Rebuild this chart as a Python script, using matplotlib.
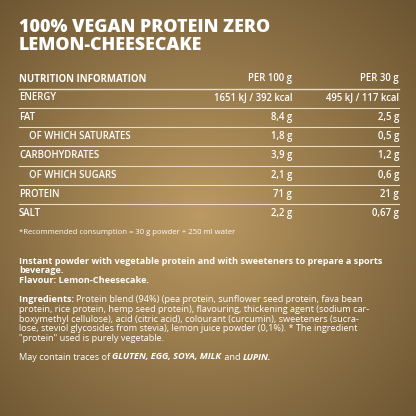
import numpy as np
import matplotlib
matplotlib.use("Agg")
import matplotlib.pyplot as plt

title_lines = ["100% VEGAN PROTEIN ZERO", "LEMON-CHEESECAKE"]
header = ["NUTRITION INFORMATION", "PER 100 g", "PER 30 g"]
nutrients = ["ENERGY", "FAT", "OF WHICH SATURATES", "CARBOHYDRATES", "OF WHICH SUGARS", "PROTEIN", "SALT"]
indent = [False, False, True, False, True, False, False]
per100 = ["1651 kJ / 392 kcal", "8,4 g", "1,8 g", "3,9 g", "2,1 g", "71 g", "2,2 g"]
per30 = ["495 kJ / 117 kcal", "2,5 g", "0,5 g", "1,2 g", "0,6 g", "21 g", "0,67 g"]
footnote = "*Recommended consumption = 30 g powder + 250 ml water"
para1 = ["Instant powder with vegetable protein and with sweeteners to prepare a sports",
         "beverage.", "Flavour: Lemon-Cheesecake."]
ingr = [[("Ingredients: ", "bold"), ("Protein blend (94%) (pea protein, sunflower seed protein, fava bean", "normal")],
        [("protein, rice protein, hemp seed protein), flavouring, thickening agent (sodium car-", "normal")],
        [("boxymethyl cellulose), acid (citric acid), colourant (curcumin), sweeteners (sucra-", "normal")],
        [("lose, steviol glycosides from stevia), lemon juice powder (0,1%). * The ingredient", "normal")],
        [("\"protein\" used is purely vegetable.", "normal")]]
traces = [("May contain traces of ", "normal", "normal"), ("GLUTEN, EGG, SOYA, MILK", "bold", "italic"),
          (" and ", "normal", "normal"), ("LUPIN.", "bold", "italic")]

W = H = 416
fig = plt.figure(figsize=(4.16, 4.16), dpi=100)
ax = fig.add_axes([0, 0, 1, 1])
ax.set_xlim(0, W); ax.set_ylim(H, 0); ax.axis("off")

yy, xx = np.mgrid[0:H, 0:W]
r = np.sqrt((xx - 200) ** 2 + (yy - 215) ** 2) / 300
r = np.clip(r, 0, 1)
c0 = np.array([0xbc, 0x9a, 0x62]) / 255
c1 = np.array([0x6c, 0x55, 0x32]) / 255
img = c0[None, None, :] * (1 - r[..., None]) + c1[None, None, :] * r[..., None]
ax.imshow(img, extent=[0, W, H, 0], zorder=0, aspect="auto")

FAM = "Open Sans"
white = "white"
L, C1, C2 = 19, 292, 399

for i, t in enumerate(title_lines):
    ax.text(L, 27 + 18 * i, t, fontsize=12.9, fontweight="heavy", family=FAM, color=white, va="center")

ts = 6.9
ax.text(L, 79, header[0], fontsize=ts, fontweight="bold", family=FAM, color=white, va="center")
ax.text(C1, 79, header[1], fontsize=ts, fontweight="semibold", family=FAM, color=white, va="center", ha="right")
ax.text(C2, 79, header[2], fontsize=ts, fontweight="semibold", family=FAM, color=white, va="center", ha="right")
ax.plot([L, C2], [89, 89], color="#e8dcc4", lw=1.0)
for i, n in enumerate(nutrients):
    y = 98 + 19.3 * i
    ax.text(L + (10 if indent[i] else 0), y, n, fontsize=ts, fontweight="semibold", family=FAM, color=white, va="center")
    ax.text(C1, y, per100[i], fontsize=ts, fontweight="semibold", family=FAM, color=white, va="center", ha="right")
    ax.text(C2, y, per30[i], fontsize=ts, fontweight="semibold", family=FAM, color=white, va="center", ha="right")
    if i < len(nutrients) - 1:
        ax.plot([L, C2], [y + 9.6, y + 9.6], color="#e8dcc4", lw=0.8)

ax.text(L, 232, footnote, fontsize=5.6, family=FAM, color=white, va="center")

ps = 6.6
for i, t in enumerate(para1):
    ax.text(L, 261 + 9.6 * i, t, fontsize=ps, fontweight="bold", family=FAM, color=white, va="center")

fig.canvas.draw()
rend = fig.canvas.get_renderer()
inv = ax.transData.inverted()

def seq(y, parts):
    x = L
    for p in parts:
        txt, wt = p[0], p[1]
        st = p[2] if len(p) > 2 else "normal"
        t = ax.text(x, y, txt, fontsize=ps, fontweight=wt, style=st, family=FAM, color=white, va="center")
        bb = t.get_window_extent(rend)
        x0 = inv.transform((bb.x0, bb.y0))[0]
        x1 = inv.transform((bb.x1, bb.y0))[0]
        x += x1 - x0

for i, parts in enumerate(ingr):
    seq(300 + 9.6 * i, parts)
seq(357, traces)

fig.savefig("out.png", dpi=100)
